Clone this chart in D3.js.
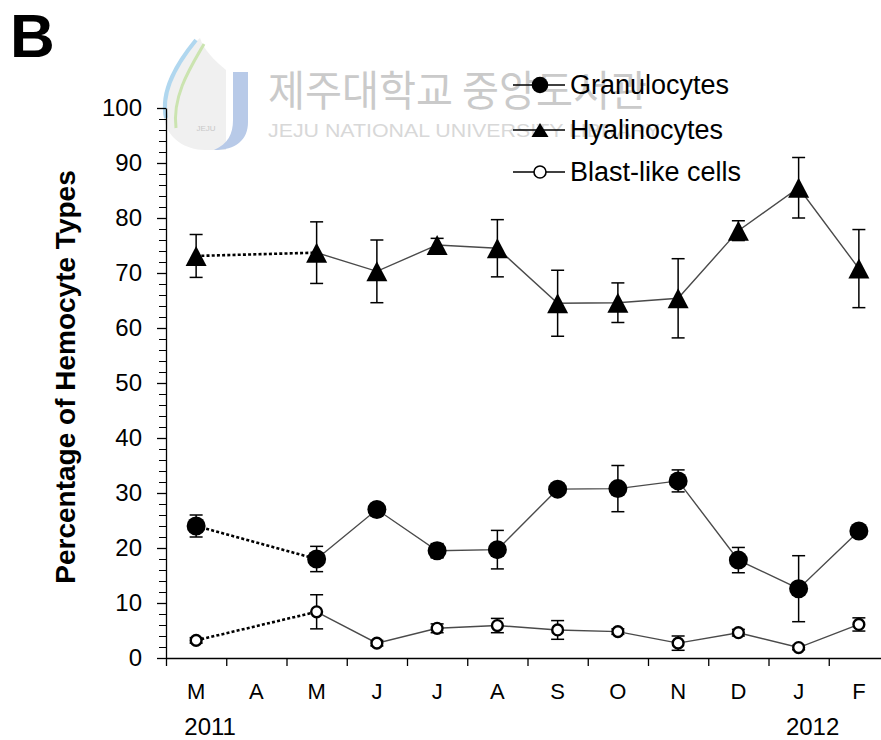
<!DOCTYPE html>
<html>
<head>
<meta charset="utf-8">
<script src="https://cdn.jsdelivr.net/npm/d3@7"></script>
<style>
  body { margin: 0; background: #fff; }
  svg { display: block; font-family: Arial, "Liberation Sans", sans-serif; }
</style>
</head>
<body>
<svg id="chart" width="881" height="740"></svg>
<script>
// Month categories (March 2011 .. February 2012).
var months = ['M', 'A', 'M', 'J', 'J', 'A', 'S', 'O', 'N', 'D', 'J', 'F'];

// Months that were sampled (April is missing).
var sampledMonths = [0, 2, 3, 4, 5, 6, 7, 8, 9, 10, 11];

// Series values (mean, error).
var granMean = [24.0, 18.0, 27.0, 19.5, 19.7, 30.7, 30.8, 32.2, 17.8, 12.6, 23.1];
var granErr = [2.0, 2.3, 0.9, 1.3, 3.5, 0.8, 4.2, 2.0, 2.3, 6.0, 0.7];
var hyalMean = [73.1, 73.7, 70.3, 75.1, 74.5, 64.5, 64.6, 65.4, 77.7, 85.5, 70.8];
var hyalErr = [3.9, 5.6, 5.7, 1.2, 5.2, 6.0, 3.6, 7.2, 1.8, 5.5, 7.1];
var blastMean = [3.2, 8.4, 2.7, 5.4, 5.9, 5.1, 4.8, 2.7, 4.6, 1.9, 6.1];
var blastErr = [0.5, 3.1, 0.5, 0.8, 1.3, 1.7, 0.5, 1.3, 0.6, 0.4, 1.2];

// Axis ticks.
var yMajorTicks = [0, 10, 20, 30, 40, 50, 60, 70, 80, 90, 100];
var yearLabels = [{ month: 0, text: '2011' }, { month: 10, text: '2012' }];

// Legend entries.
var seriesNames = ['Granulocytes', 'Hyalinocytes', 'Blast-like cells'];

var svg = d3.select('#chart');

// Constants.
var kLeft = 166;
var kRight = 889;
var kTop = 108;
var kBottom = 658;
var kCapHalf = 6.5;
var kLineColor = '#4a4a4a';

var y = d3.scaleLinear().domain([0, 100]).range([kBottom, kTop]);
var x = d3.scaleBand().domain(d3.range(months.length)).range([kLeft, kRight]);
var xEdges = d3.scaleLinear().domain([0, months.length]).range([kLeft, kRight]);

function Cx(monthIndex)
{
  return x(monthIndex) + x.bandwidth() / 2;
}

// Watermark (library logo and name).
var wm = svg.append('g').attr('class', 'watermark');
wm.append('path')
  .attr('d', 'M200,38 C178,58 160,88 164,118 C167,138 185,150 205,150 L226,150 L226,70 C214,60 204,50 200,38 Z')
  .attr('fill', '#f0f0f0');
wm.append('path')
  .attr('d', 'M196,40 C178,62 160,90 166,118')
  .attr('fill', 'none').attr('stroke', '#b0d7ef').attr('stroke-width', 4);
wm.append('path')
  .attr('d', 'M204,44 C190,68 172,96 176,128')
  .attr('fill', 'none').attr('stroke', '#cbe4b0').attr('stroke-width', 3);
wm.append('path')
  .attr('d', 'M233,72 L248,72 L248,122 C248,140 236,150 214,150 C228,144 233,134 233,120 Z')
  .attr('fill', '#b8cae8');
wm.append('text')
  .attr('x', 206).attr('y', 131)
  .attr('text-anchor', 'middle')
  .attr('font-size', 8).attr('fill', '#c8c8c8')
  .text('JEJU');
wm.append('text')
  .attr('x', 268).attr('y', 106)
  .attr('font-family', '"Noto Sans CJK KR", sans-serif')
  .attr('font-size', 42)
  .attr('textLength', 379).attr('lengthAdjust', 'spacingAndGlyphs')
  .attr('fill', '#cacaca')
  .text('제주대학교 중앙도서관');
wm.append('text')
  .attr('x', 268).attr('y', 137)
  .attr('font-size', 19)
  .attr('textLength', 392).attr('lengthAdjust', 'spacingAndGlyphs')
  .attr('fill', '#d8d8d8')
  .text('JEJU NATIONAL UNIVERSITY LIBRARY');

// Panel letter.
svg.append('text')
  .attr('x', 10).attr('y', 57)
  .attr('font-size', 62).attr('font-weight', 'bold')
  .text('B');

// Y axis: minor ticks, then major ticks with labels.
svg.append('g')
  .attr('transform', 'translate(' + kLeft + ',0)')
  .call(d3.axisLeft(y).tickValues(d3.range(0, 101, 2)).tickSize(7).tickFormat(''))
  .call(function(g) { g.select('.domain').remove(); });
var yAxis = svg.append('g')
  .attr('transform', 'translate(' + kLeft + ',0)')
  .call(d3.axisLeft(y).tickValues(yMajorTicks).tickSize(9).tickPadding(15).tickSizeOuter(0));
yAxis.selectAll('text')
  .attr('font-size', 24).attr('font-family', 'Arial, "Liberation Sans", sans-serif')
  .attr('fill', '#000');
yAxis.selectAll('line, path').attr('stroke', '#000').attr('stroke-width', 1.3);

// X axis: ticks at month boundaries, labels at month centres.
var xAxis = svg.append('g')
  .attr('transform', 'translate(0,' + kBottom + ')')
  .call(d3.axisBottom(xEdges).tickValues(d3.range(months.length + 1))
    .tickSize(8).tickSizeOuter(0).tickFormat(''));
xAxis.selectAll('line, path').attr('stroke', '#000').attr('stroke-width', 1.3);
var xLabels = svg.append('g')
  .attr('transform', 'translate(0,' + kBottom + ')')
  .call(d3.axisBottom(x).tickSize(0).tickPadding(25)
    .tickFormat(function(i) { return months[i]; }));
xLabels.select('.domain').remove();
xLabels.selectAll('text')
  .attr('font-size', 22).attr('font-family', 'Arial, "Liberation Sans", sans-serif')
  .attr('fill', '#000');

svg.selectAll('text.year')
  .data(yearLabels)
  .enter().append('text')
  .attr('class', 'year')
  .attr('x', function(d) { return Cx(d.month) + 14; })
  .attr('y', kBottom + 77)
  .attr('text-anchor', 'middle')
  .attr('font-size', 24)
  .text(function(d) { return d.text; });

// Y axis title.
svg.append('text')
  .attr('transform', 'translate(75,' + ((kTop + kBottom) / 2 - 6) + ') rotate(-90)')
  .attr('text-anchor', 'middle')
  .attr('font-size', 28).attr('font-weight', 'bold')
  .text('Percentage of Hemocyte Types');

// Build series.
function MakeSeries(means, errs)
{
  return sampledMonths.map(function(m, i) {
    return { month: m, mean: means[i], err: errs[i] };
  });
}
var series = [
  { name: seriesNames[0], shape: 'filled', data: MakeSeries(granMean, granErr) },
  { name: seriesNames[1], shape: 'triangle', data: MakeSeries(hyalMean, hyalErr) },
  { name: seriesNames[2], shape: 'open', data: MakeSeries(blastMean, blastErr) },
];

function TrianglePath(w, h)
{
  return 'M0,' + (-h / 2) + 'L' + (w / 2) + ',' + (h / 2) + 'L' + (-w / 2) + ',' + (h / 2) + 'Z';
}

function DrawMarker(g, shape, big)
{
  if (shape == 'filled')
  {
    g.append('circle').attr('r', big ? 9.5 : 8.3).attr('fill', '#000');
  }
  else if (shape == 'triangle')
  {
    g.append('path').attr('d', big ? TrianglePath(21, 20) : TrianglePath(17, 14)).attr('fill', '#000');
  }
  else
  {
    g.append('circle').attr('r', big ? 5.4 : 6)
      .attr('fill', '#fff').attr('stroke', '#000')
      .attr('stroke-width', big ? 2.4 : 1.6);
  }
}

var line = d3.line()
  .x(function(d) { return Cx(d.month); })
  .y(function(d) { return y(d.mean); });

series.forEach(function(s) {
  var g = svg.append('g');

  // Error bars.
  var eb = g.selectAll('g.err').data(s.data).enter().append('g')
    .attr('class', 'err')
    .attr('stroke', '#000').attr('stroke-width', 1.5);
  eb.append('line')
    .attr('x1', function(d) { return Cx(d.month); })
    .attr('x2', function(d) { return Cx(d.month); })
    .attr('y1', function(d) { return y(d.mean + d.err); })
    .attr('y2', function(d) { return y(d.mean - d.err); });
  [1, -1].forEach(function(sign) {
    eb.append('line')
      .attr('x1', function(d) { return Cx(d.month) - kCapHalf; })
      .attr('x2', function(d) { return Cx(d.month) + kCapHalf; })
      .attr('y1', function(d) { return y(d.mean + sign * d.err); })
      .attr('y2', function(d) { return y(d.mean + sign * d.err); });
  });

  // Dotted segment across the missing month, then solid line.
  g.append('path')
    .datum(s.data.slice(0, 2))
    .attr('d', line)
    .attr('fill', 'none').attr('stroke', '#000')
    .attr('stroke-width', 2.6).attr('stroke-dasharray', '3,2.2');
  g.append('path')
    .datum(s.data.slice(1))
    .attr('d', line)
    .attr('fill', 'none').attr('stroke', kLineColor)
    .attr('stroke-width', 1.4);

  // Markers.
  g.selectAll('g.pt').data(s.data).enter().append('g')
    .attr('class', 'pt')
    .attr('transform', function(d) { return 'translate(' + Cx(d.month) + ',' + y(d.mean) + ')'; })
    .each(function() { DrawMarker(d3.select(this), s.shape, true); });
});

// Legend.
var kLegendX = 513;
var kLegendY = [85, 130, 172];
var legend = svg.selectAll('g.legend').data(series).enter().append('g')
  .attr('class', 'legend')
  .attr('transform', function(d, i) { return 'translate(' + kLegendX + ',' + kLegendY[i] + ')'; });
legend.append('line')
  .attr('x1', 0).attr('x2', 52)
  .attr('stroke', '#000').attr('stroke-width', 1.3);
legend.append('g')
  .attr('transform', 'translate(27,0)')
  .each(function(d) { DrawMarker(d3.select(this), d.shape, false); });
legend.append('text')
  .attr('x', 57).attr('dy', '0.35em')
  .attr('font-size', 27)
  .text(function(d) { return d.name; });
</script>
</body>
</html>
